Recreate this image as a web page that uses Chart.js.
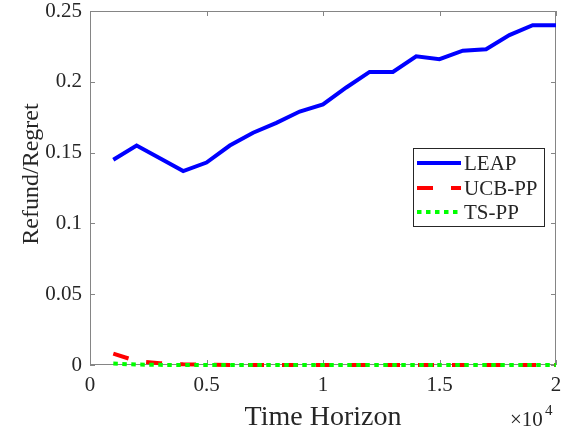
<!DOCTYPE html>
<html>
<head>
<meta charset="utf-8">
<script src="https://cdn.jsdelivr.net/npm/chart.js@4.4.1/dist/chart.umd.min.js"></script>
<style>
  html, body { margin: 0; padding: 0; background: #fff; }
  #wrap { width: 565px; height: 434px; }
</style>
</head>
<body>
<div id="wrap"><canvas id="myChart" width="565" height="434"></canvas></div>
<script>
const ctx = document.getElementById("myChart");

// time horizon (rounds)
const horizons = [1000, 2000, 3000, 4000, 5000, 6000, 7000, 8000, 9000, 10000,
    11000, 12000, 13000, 14000, 15000, 16000, 17000, 18000, 19000, 20000];

const leap = [0.145, 0.155, 0.146, 0.137, 0.143, 0.155, 0.164, 0.171, 0.179, 0.184,
    0.196, 0.207, 0.207, 0.218, 0.216, 0.222, 0.223, 0.233, 0.240, 0.240];
const ucbpp = [0.008, 0.0028, 0.0013, 0.0005, 0.0002, 0, 0, 0, 0, 0,
    0, 0, 0, 0, 0, 0, 0, 0, 0, 0];
const tspp = [0.001, 0.0003, 0.0001, 0, 0, 0, 0, 0, 0, 0,
    0, 0, 0, 0, 0, 0, 0, 0, 0, 0];

const xTicks = [0, 5000, 10000, 15000, 20000];
const yTicks = [0, 0.05, 0.1, 0.15, 0.2, 0.25];

const FONT = "Liberation Serif";
const TEXT = "#262626";
const BOX = "#858585";

Chart.defaults.font.family = FONT;

function pts(arr) {
    return arr.map((v, i) => ({ x: horizons[i], y: v }));
}

const series = [
    { label: "LEAP", data: leap, color: "#0000ff", dash: [], order: 3 },
    { label: "UCB-PP", data: ucbpp, color: "#ff0000", dash: [16, 18], order: 2 },
    { label: "TS-PP", data: tspp, color: "#00ff00", dash: [4.5, 4.5], order: 1 },
];

function noPad(s) {
    s.paddingLeft = 0; s.paddingRight = 0;
    s.paddingTop = 0; s.paddingBottom = 0;
}

// axes box + inward ticks under the lines
const axesBox = {
    id: "axesBox",
    beforeDatasetsDraw(chart) {
        const c = chart.ctx;
        const a = chart.chartArea;
        const xs = chart.scales.x, ys = chart.scales.y;
        c.save();
        c.strokeStyle = BOX;
        c.lineWidth = 1;
        c.strokeRect(a.left + 0.5, a.top + 0.5, a.right - a.left - 1, a.bottom - a.top - 1);
        c.beginPath();
        xTicks.forEach(t => {
            const px = Math.round(xs.getPixelForValue(t)) + 0.5;
            c.moveTo(px, a.bottom); c.lineTo(px, a.bottom - 5);
            c.moveTo(px, a.top); c.lineTo(px, a.top + 5);
        });
        yTicks.forEach(t => {
            const py = Math.round(ys.getPixelForValue(t)) + 0.5;
            c.moveTo(a.left, py); c.lineTo(a.left + 5, py);
            c.moveTo(a.right, py); c.lineTo(a.right - 5, py);
        });
        c.stroke();
        c.restore();
    },
};

// titles, exponent, legend
const decorations = {
    id: "decorations",
    afterDraw(chart) {
        const c = chart.ctx;
        const a = chart.chartArea;
        c.save();
        c.fillStyle = TEXT;
        c.font = "28px " + FONT;
        c.textAlign = "center";
        c.textBaseline = "alphabetic";
        c.fillText("Time Horizon", (a.left + a.right) / 2, 425);

        c.save();
        c.translate(38, 174);
        c.rotate(-Math.PI / 2);
        c.font = "24px " + FONT;
        c.fillText("Refund/Regret", 0, 0);
        c.restore();

        c.textAlign = "left";
        c.font = "21px " + FONT;
        c.fillText("\u00d710", 510, 426);
        c.font = "15px " + FONT;
        c.fillText("4", 545, 415);

        const lx = 413, ly = 148, lw = 131, lh = 78;
        c.fillStyle = "#fff";
        c.fillRect(lx, ly, lw, lh);
        c.strokeStyle = TEXT;
        c.lineWidth = 1;
        c.strokeRect(lx + 0.5, ly + 0.5, lw, lh);
        const rows = [163, 188, 212];
        series.forEach((s, i) => {
            c.beginPath();
            c.strokeStyle = s.color;
            c.lineWidth = 4;
            c.setLineDash(s.dash);
            c.moveTo(417, rows[i]);
            c.lineTo(461, rows[i]);
            c.stroke();
            c.setLineDash([]);
            c.fillStyle = TEXT;
            c.font = "21px " + FONT;
            c.textBaseline = "middle";
            c.fillText(s.label, 464, rows[i] + 1);
        });
        c.restore();
    },
};

const chart = new Chart(ctx, {
    type: "line",
    data: {
        datasets: series.map(s => ({
            label: s.label,
            data: pts(s.data),
            borderColor: s.color,
            backgroundColor: s.color,
            borderWidth: 4,
            borderDash: s.dash,
            borderCapStyle: "butt",
            pointRadius: 0,
            tension: 0,
            fill: false,
            clip: false,
            order: s.order,
        })),
    },
    options: {
        responsive: false,
        animation: false,
        layout: {
            padding: { left: 0, right: 9, top: 11, bottom: 0 },
        },
        scales: {
            x: {
                type: "linear",
                min: 0,
                max: 20000,
                afterBuildTicks: (s) => { s.ticks = xTicks.map(v => ({ value: v })); },
                afterFit: (s) => { s.height = 69; noPad(s); },
                grid: { display: false, drawTicks: false },
                border: { display: false },
                ticks: {
                    color: TEXT,
                    font: { family: FONT, size: 21 },
                    padding: 8,
                    maxRotation: 0,
                    callback: (v) => String(v / 10000),
                },
            },
            y: {
                min: 0,
                max: 0.25,
                afterBuildTicks: (s) => { s.ticks = yTicks.map(v => ({ value: v })); },
                afterFit: (s) => { s.width = 90; noPad(s); },
                grid: { display: false, drawTicks: false },
                border: { display: false },
                ticks: {
                    color: TEXT,
                    font: { family: FONT, size: 21 },
                    padding: 8,
                    callback: (v) => String(v),
                },
            },
        },
        plugins: {
            legend: { display: false },
            tooltip: { enabled: false },
        },
    },
    plugins: [axesBox, decorations],
});
</script>
</body>
</html>
